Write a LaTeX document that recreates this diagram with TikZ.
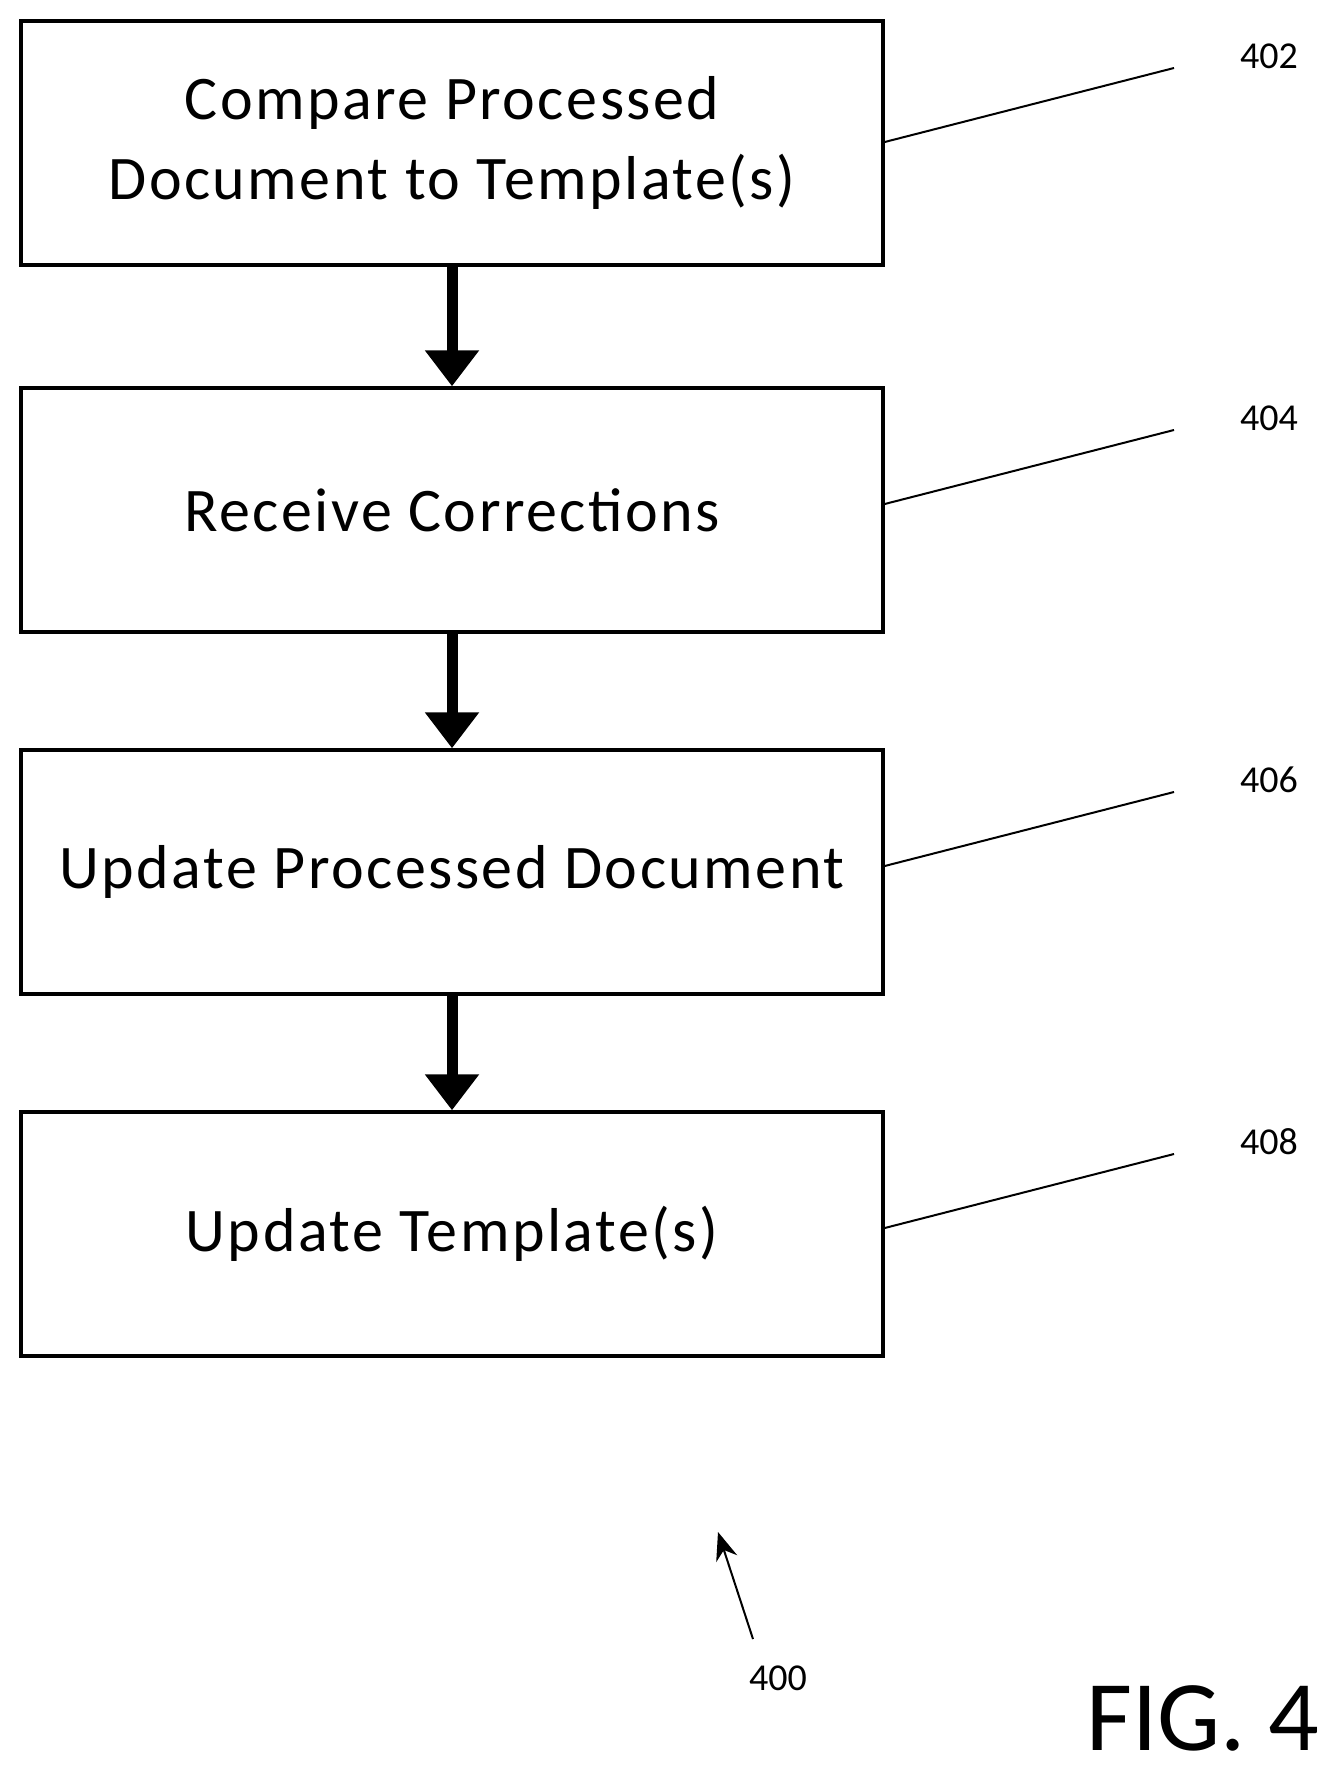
\documentclass[tikz,border=0pt]{standalone}
\usepackage{fontspec}
\setmainfont{Carlito}
\usetikzlibrary{arrows.meta}
\begin{document}
\begin{tikzpicture}[x=0.5pt,y=-0.5pt,
  box/.style={draw,line width=1.7pt,minimum width=431pt,minimum height=122pt,font=\fontsize{31}{40}\selectfont\addfontfeatures{LetterSpace=4},align=center,inner sep=0pt},
  flow/.style={line width=5.5pt,-{Triangle[width=26pt,length=18pt]}},
  lead/.style={line width=1pt},
  num/.style={font=\fontsize{19}{22}\selectfont}]
\useasboundingbox (0,0) rectangle (1343,1772);
\node[box] (b1) at (452,143) {Compare Processed\\Document to Template(s)};
\node[box] (b2) at (452,510) {Receive Corrections};
\node[box] (b3) at (452,872) {Update Processed Document};
\node[box] (b4) at (452,1234) {Update Template(s)};
\draw[flow] (b1) -- (b2);
\draw[flow] (b2) -- (b3);
\draw[flow] (b3) -- (b4);
\foreach \i/\t/\y in {1/402/0,2/404/362,3/406/724,4/408/1086}{
  \coordinate (e\i) at (1174,68+\y);
  \node[num] (n\i) at (1269,56+\y) {\t};
  \draw[lead] (b\i.east |- 0,142+\y) -- (e\i);
}
\node[num] (n0) at (778,1678) {400};
\coordinate (a0) at (753,1639);
\draw[line width=1pt,-{Stealth[width=11pt,length=14pt]}] (a0) -- (718,1532);
\node[font=\fontsize{50}{56}\selectfont] (fig) at (1203,1718) {FIG. 4};
\end{tikzpicture}
\end{document}
